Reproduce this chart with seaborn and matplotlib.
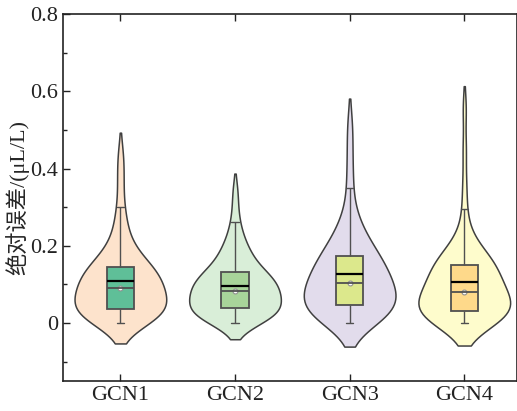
import matplotlib
matplotlib.use("Agg")
import matplotlib.pyplot as plt
from matplotlib.ticker import FixedLocator
import seaborn as sns
import pandas as pd

categories = ["GCN1", "GCN2", "GCN3", "GCN4"]

gcn1 = [0.0, 0.0025, 0.005, 0.0075, 0.010, 0.0125, 0.015, 0.0175, 0.020, 0.0225, 0.025, 0.0275,
        0.030, 0.0325, 0.035, 0.0365,
        0.0375, 0.041, 0.0445, 0.048, 0.0515, 0.055, 0.0585, 0.062, 0.0655, 0.069, 0.0725, 0.076,
        0.0795, 0.083, 0.0865, 0.090,
        0.092, 0.0955, 0.099, 0.1025, 0.106, 0.1095, 0.113, 0.1165, 0.120, 0.1235, 0.127, 0.1305,
        0.134, 0.1375, 0.141, 0.144,
        0.148, 0.153, 0.158, 0.164, 0.171, 0.179, 0.188, 0.199, 0.212, 0.228, 0.248, 0.272,
        0.300, 0.350, 0.395, 0.440]
gcn2 = [0.0, 0.0025, 0.005, 0.0075, 0.010, 0.0125, 0.015, 0.0175, 0.020, 0.0225, 0.025, 0.0275,
        0.030, 0.0325, 0.035, 0.037,
        0.039, 0.042, 0.045, 0.048, 0.051, 0.054, 0.057, 0.060, 0.063, 0.066, 0.069, 0.072,
        0.075, 0.078, 0.081, 0.083,
        0.085, 0.088, 0.091, 0.094, 0.097, 0.100, 0.103, 0.106, 0.109, 0.112, 0.115, 0.118,
        0.121, 0.124, 0.127, 0.130,
        0.134, 0.139, 0.145, 0.152, 0.159, 0.166, 0.173, 0.180, 0.188, 0.197, 0.208, 0.222,
        0.240, 0.262, 0.300, 0.345]
gcn3 = [0.0, 0.003, 0.006, 0.009, 0.012, 0.015, 0.018, 0.021, 0.024, 0.027, 0.030, 0.033,
        0.036, 0.039, 0.042, 0.045,
        0.048, 0.0516, 0.0552, 0.0588, 0.0624, 0.066, 0.0696, 0.0732, 0.0768, 0.0804, 0.084,
        0.0876, 0.0912, 0.0948, 0.0984, 0.102,
        0.104, 0.1085, 0.113, 0.1175, 0.122, 0.1265, 0.131, 0.1355, 0.140, 0.1445, 0.149, 0.1535,
        0.158, 0.1625, 0.167, 0.171,
        0.176, 0.182, 0.189, 0.196, 0.204, 0.212, 0.221, 0.231, 0.242, 0.256, 0.275, 0.300,
        0.350, 0.400, 0.460, 0.520]
gcn4 = [0.0, 0.002, 0.004, 0.006, 0.008, 0.010, 0.012, 0.014, 0.016, 0.018, 0.020, 0.022,
        0.024, 0.026, 0.028, 0.030,
        0.0315, 0.0348, 0.0381, 0.0414, 0.0447, 0.048, 0.0513, 0.0546, 0.0579, 0.0612, 0.0645,
        0.0678, 0.0711, 0.0744, 0.0777, 0.080,
        0.082, 0.0865, 0.091, 0.0955, 0.100, 0.1045, 0.109, 0.1135, 0.118, 0.1225, 0.127, 0.1315,
        0.136, 0.1405, 0.145, 0.148,
        0.152, 0.155, 0.158, 0.162, 0.166, 0.171, 0.177, 0.184, 0.193, 0.205, 0.220, 0.245,
        0.295, 0.360, 0.450, 0.555]

violin_colors = ["#fde3cc", "#d9eed8", "#e2dcec", "#fefccc"]
box_colors = ["#5fbf98", "#a8d49a", "#dce88c", "#fed98a"]

yticks = [0, 0.2, 0.4, 0.6, 0.8]
ytick_labels = ["0", "0.2", "0.4", "0.6", "0.8"]

df = pd.DataFrame({
    "group": [c for c, vals in zip(categories, [gcn1, gcn2, gcn3, gcn4]) for _ in vals],
    "value": gcn1 + gcn2 + gcn3 + gcn4,
})

sns.set_theme(style="ticks")
plt.rcParams["font.family"] = ["Liberation Serif", "Noto Sans CJK SC"]

fig = plt.figure(figsize=(5.17, 4.11), dpi=100)
ax = fig.add_axes([0.122, 0.073, 0.878, 0.893])

edge = "#404040"
sns.violinplot(data=df, x="group", y="value", hue="group", order=categories,
               palette=violin_colors, saturation=1, legend=False, inner=None,
               density_norm="width", width=0.8, bw_adjust=0.95, cut=1.35,
               linewidth=1.1, linecolor=edge, ax=ax)
sns.boxplot(data=df, x="group", y="value", hue="group", order=categories,
            palette=box_colors, saturation=1, legend=False, width=0.24, showfliers=False,
            linewidth=1.3, linecolor="#505050",
            showmeans=True, meanline=True,
            meanprops=dict(color="black", linestyle="-", linewidth=1.6),
            medianprops=dict(color="#505050", linewidth=1.3),
            whiskerprops=dict(color="#505050", linewidth=1.0),
            capprops=dict(color="#505050", linewidth=1.0),
            capwidths=0.065, ax=ax)
sns.pointplot(data=df, x="group", y="value", order=categories, estimator="median",
              errorbar=None, linestyle="none", marker="o", markersize=3.5,
              markerfacecolor="white", markeredgecolor="#909090", markeredgewidth=0.8,
              color="#909090", ax=ax)

ax.set_ylim(-0.15, 0.8)
ax.set_xlim(-0.5, 3.46)
ax.yaxis.set_major_locator(FixedLocator(yticks))
ax.set_yticklabels(ytick_labels)
ax.yaxis.set_minor_locator(FixedLocator([-0.1, 0.1, 0.3, 0.5, 0.7]))
ax.tick_params(axis="both", which="both", direction="in", colors="#222222")
ax.tick_params(axis="both", which="major", length=5, width=1.0, labelsize=16)
ax.tick_params(axis="y", which="minor", length=3, width=1.0)
ax.tick_params(top=True, which="major", axis="x")
ax.set_xlabel("")
ax.set_ylabel("绝对误差/(μL/L)", fontsize=16, labelpad=1)
for s in ax.spines.values():
    s.set_linewidth(1.2)
    s.set_color("#222222")

fig.savefig("out.png", dpi=100)
